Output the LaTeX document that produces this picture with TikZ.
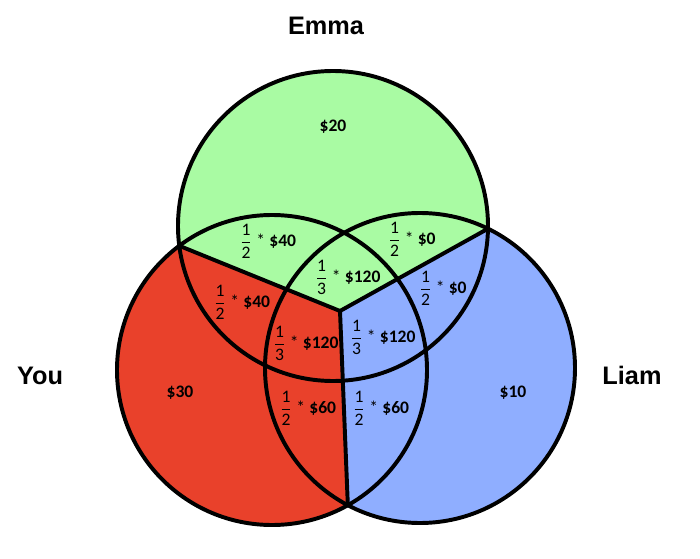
\documentclass[tikz,border=0pt]{standalone}
\usepackage{fontspec}
\setmainfont{Carlito}
\newfontfamily\namefont{Liberation Sans}
\usepackage{tikz}
\usetikzlibrary{calc}
\definecolor{youred}{HTML}{E9412B}
\definecolor{emmagreen}{HTML}{A9FBA3}
\definecolor{liamblue}{HTML}{8FAEFF}
\tikzstyle{person}=[font=\namefont\bfseries\fontsize{18}{20}\selectfont]
\tikzstyle{share}=[font=\fontsize{12.5}{14}\selectfont, inner sep=0pt]
\tikzstyle{ring}=[draw=black, line width=2.8pt]
\newcommand{\shr}[3]{$\displaystyle\frac{\mbox{#1}}{\mbox{#2}}$\hspace{3pt}*\hspace{3pt}\textbf{\$#3}}

\begin{document}
\begin{tikzpicture}[x=0.025cm, y=-0.025cm]
	\useasboundingbox (0,0) rectangle (700,559);
	\coordinate (cyou) at (272,370);
	\coordinate (cemma) at (333,226);
	\coordinate (cliam) at (420,368);
	\coordinate (mid) at (340,311);
	\coordinate (ye) at (179.27,245.80);
	\coordinate (el) at (487.98,228.70);
	\coordinate (yl) at (347.84,505.18);
	\begin{scope}
		\clip (mid) -- ($(mid)!4!(ye)$) -- (-400,1200) -- ($(mid)!4!(yl)$) -- cycle;
		\fill[youred] (cyou) circle[radius=155] (cemma) circle[radius=155] (cliam) circle[radius=155];
	\end{scope}
	\begin{scope}
		\clip (mid) -- ($(mid)!4!(ye)$) -- (-400,-600) -- (1100,-600) -- ($(mid)!4!(el)$) -- cycle;
		\fill[emmagreen] (cyou) circle[radius=155] (cemma) circle[radius=155] (cliam) circle[radius=155];
	\end{scope}
	\begin{scope}
		\clip (mid) -- ($(mid)!4!(el)$) -- (1100,1200) -- ($(mid)!4!(yl)$) -- cycle;
		\fill[liamblue] (cyou) circle[radius=155] (cemma) circle[radius=155] (cliam) circle[radius=155];
	\end{scope}
	\path[ring] (cyou) circle[radius=155];
	\path[ring] (cemma) circle[radius=155];
	\path[ring] (cliam) circle[radius=155];
	\path[draw=black, line width=2.8pt, line join=round] (ye) -- (mid) -- (el) (mid) -- (yl);
	\node[person] (emmaname) at (326,26) {Emma};
	\node[person] (youname) at (40,376) {You};
	\node[person] (liamname) at (632,375) {Liam};
	\node[share] (emmaonly) at (333,127) {\textbf{\$20}};
	\node[share] (youonly) at (180,393) {\textbf{\$30}};
	\node[share] (liamonly) at (513,393) {\textbf{\$10}};
	\node[share] (yegreen) at (268,241) {\shr{1}{2}{40}};
	\node[share] (elgreen) at (412,239) {\shr{1}{2}{0}};
	\node[share] (allgreen) at (348,277) {\shr{1}{3}{120}};
	\node[share] (yered) at (242,302) {\shr{1}{2}{40}};
	\node[share] (allred) at (306,343) {\shr{1}{3}{120}};
	\node[share] (ylred) at (308,408) {\shr{1}{2}{60}};
	\node[share] (elblue) at (443,288) {\shr{1}{2}{0}};
	\node[share] (allblue) at (383,337) {\shr{1}{3}{120}};
	\node[share] (ylblue) at (381,408) {\shr{1}{2}{60}};
\end{tikzpicture}
\end{document}
